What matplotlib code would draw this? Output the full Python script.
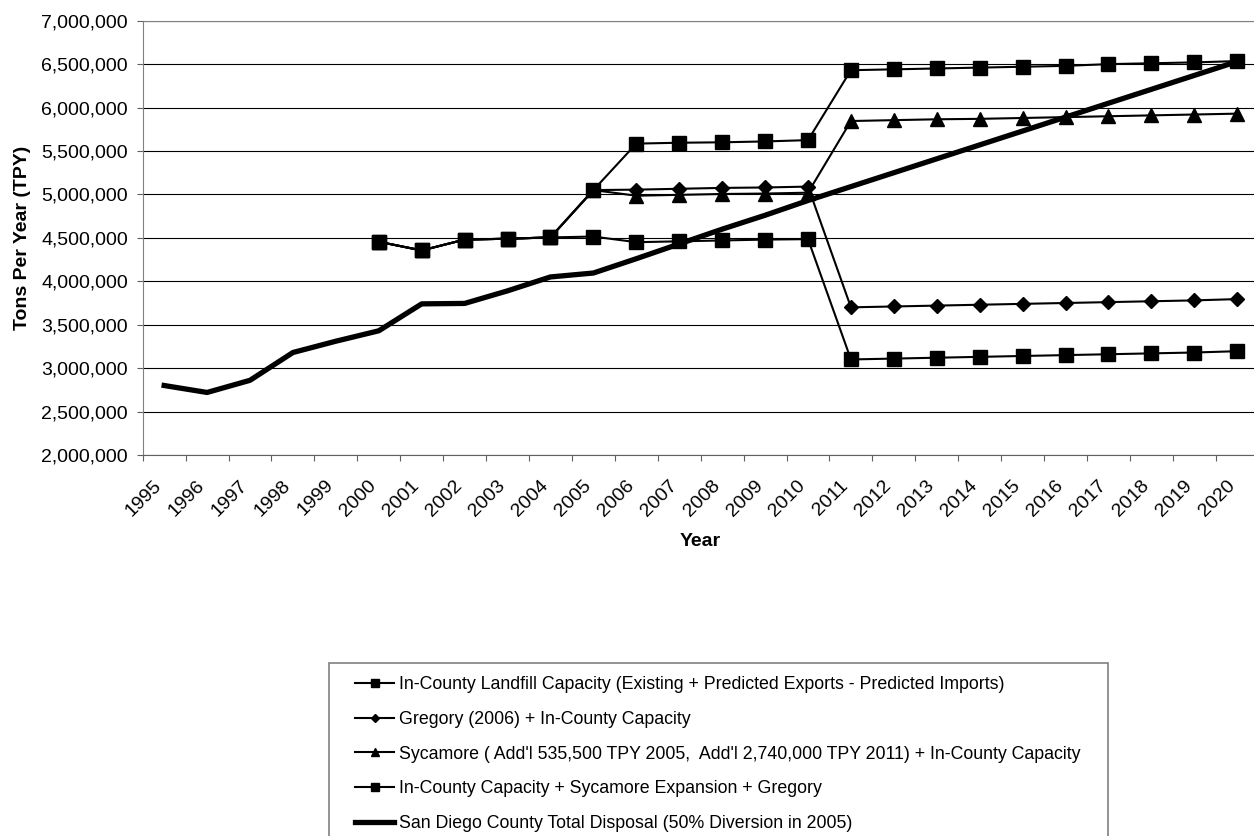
#Landfill capacity vs county disposal, 1995-2020
import matplotlib.pyplot as plt
import matplotlib.ticker as ticker
import matplotlib.transforms as mtransforms
from matplotlib.patches import Rectangle
import numpy as np

plt.rcParams['font.family'] = ['Liberation Sans', 'DejaVu Sans']

years = list(range(1995, 2021))
nan = np.nan

#all values in tons per year
disposal = [2800000, 2720000, 2860000, 3180000, 3310000, 3430000, 3740000, 3745000, 3890000, 4050000,
            4095000, 4260000, 4430000, 4600000, 4760000, 4930000, 5090000, 5250000, 5410000, 5570000,
            5730000, 5890000, 6050000, 6210000, 6370000, 6530000]

in_county = [nan]*5 + [4455000, 4355000, 4480000, 4490000, 4505000, 4515000, 4450000, 4460000, 4470000,
                       4480000, 4485000, 3100000, 3110000, 3120000, 3130000, 3140000, 3150000, 3160000,
                       3170000, 3180000, 3195000]

gregory = [nan]*5 + [4455000, 4355000, 4480000, 4490000, 4505000, 5050000, 5055000, 5065000, 5075000,
                     5080000, 5090000, 3700000, 3710000, 3720000, 3730000, 3740000, 3750000, 3760000,
                     3770000, 3780000, 3795000]

sycamore = [nan]*5 + [4455000, 4355000, 4480000, 4490000, 4505000, 5050000, 4985000, 4995000, 5005000,
                      5010000, 5020000, 5845000, 5855000, 5865000, 5870000, 5880000, 5890000, 5900000,
                      5910000, 5920000, 5930000]

combined = [nan]*5 + [4455000, 4355000, 4480000, 4490000, 4505000, 5050000, 5585000, 5595000, 5600000,
                      5610000, 5625000, 6430000, 6440000, 6450000, 6460000, 6470000, 6480000, 6500000,
                      6510000, 6520000, 6535000]

labels = ["In-County Landfill Capacity (Existing + Predicted Exports - Predicted Imports)",
          "Gregory (2006) + In-County Capacity",
          "Sycamore ( Add'l 535,500 TPY 2005,  Add'l 2,740,000 TPY 2011) + In-County Capacity",
          "In-County Capacity + Sycamore Expansion + Gregory",
          "San Diego County Total Disposal (50% Diversion in 2005)"]

x = np.arange(len(years))

fig = plt.figure(figsize=(12.54, 8.36), dpi=100)
ax = fig.add_axes([142.7/1254, 1 - 455/836, 1116/1254, 434.3/836])

ax.plot(x, in_county, 'k-', marker='s', ms=10, lw=1.5, label=labels[0])
ax.plot(x, gregory, 'k-', marker='D', ms=6.8, lw=1.5, label=labels[1])
ax.plot(x, sycamore, 'k-', marker='^', ms=10, lw=1.5, label=labels[2])
ax.plot(x, combined, 'k-', marker='s', ms=10, lw=1.5, label=labels[3])
ax.plot(x, disposal, 'k-', lw=3.8, label=labels[4])

#y axis
ax.set_ylim(2000000, 7000000)
ax.yaxis.set_major_locator(ticker.MultipleLocator(500000))
ax.yaxis.set_major_formatter(ticker.FuncFormatter(lambda v, p: '{:,.0f}'.format(v)))
ax.grid(axis='y', color='black', lw=0.8)
ax.set_axisbelow(True)
ax.tick_params(axis='y', direction='out', length=4.5, width=0.8, color='#606060', pad=6, labelsize=14)
ax.set_ylabel('Tons Per Year (TPY)', fontsize=14, fontweight='bold')
ax.yaxis.set_label_coords(-0.1, 0.5)

#x axis: ticks between categories, labels on the categories
ax.set_xlim(-0.5, len(years) - 0.5)
ax.set_xticks(x)
ax.set_xticklabels(years, rotation=45, ha='right', va='center', rotation_mode='anchor')
ax.set_xticks(np.arange(-0.5, len(years)), minor=True)
ax.tick_params(axis='x', which='major', length=0, pad=20, labelsize=14)
ax.tick_params(axis='x', which='minor', direction='out', length=4.5, width=0.8, color='#606060')
shift = mtransforms.ScaledTranslation(-5/100, 0, fig.dpi_scale_trans)
for lbl in ax.get_xticklabels():
    lbl.set_transform(lbl.get_transform() + shift)
ax.set_xlabel('Year', fontsize=14, fontweight='bold')
ax.xaxis.set_label_coords(0.5, -0.18)

for s in ['left', 'top', 'right']:
    ax.spines[s].set_color('#808080')
ax.spines['bottom'].set_color('#606060')

#legend box
fig.patches.append(Rectangle((329/1254, -0.05), 779/1254, 0.05 + 1 - 663/836,
                             transform=fig.transFigure, fill=False, edgecolor='#808080', lw=1.2))
fig.legend(loc='upper left', bbox_to_anchor=(355/1254, 1 - 676/836), frameon=False,
           fontsize=12.8, markerscale=0.6, handlelength=2.2, handletextpad=0.25,
           labelspacing=1.0, borderpad=0, borderaxespad=0)

plt.savefig('out.png', dpi=100)
